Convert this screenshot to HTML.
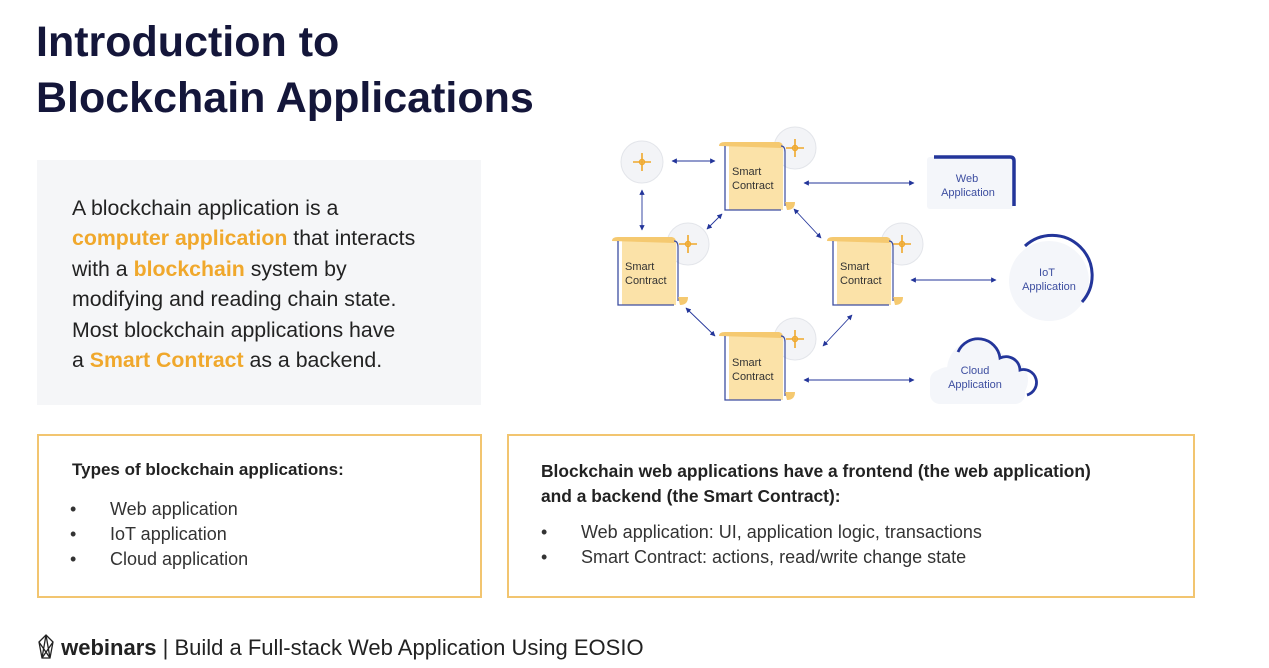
<!DOCTYPE html>
<html><head><meta charset="utf-8">
<style>
body{margin:0;width:1269px;height:668px;background:#fff;position:relative;overflow:hidden;font-family:"Liberation Sans",sans-serif;color:#1a1a2e}
.a{position:absolute}
h1{position:absolute;left:36px;top:14px;margin:0;font-size:43px;line-height:56px;font-weight:bold;color:#14163a}
.gray{left:37px;top:160px;width:444px;height:245px;background:#f5f6f8}
.intro{left:72px;top:193px;font-size:21.3px;line-height:30.4px;color:#222;white-space:nowrap}
.o{color:#f0a82c;font-weight:bold}
.box{border:2px solid #f2c570;box-sizing:border-box}
.bt{font-size:17px;font-weight:bold;color:#222;white-space:nowrap}
.li{font-size:18px;color:#333;white-space:nowrap}
</style></head><body>
<h1>Introduction to<br>Blockchain Applications</h1>
<div class="a gray"></div>
<div class="a intro">A blockchain application is a<br><span class="o">computer application</span> that interacts<br>with a <span class="o">blockchain</span> system by<br>modifying and reading chain state.<br>Most blockchain applications have<br>a <span class="o">Smart Contract</span> as a backend.</div>

<div class="a box" style="left:37px;top:434px;width:445px;height:164px"></div>
<div class="a bt" style="left:72px;top:460px">Types of blockchain applications:</div>
<div class="a li" style="left:70px;top:497px;line-height:25px">•<br>•<br>•</div>
<div class="a li" style="left:110px;top:497px;line-height:25px">Web application<br>IoT application<br>Cloud application</div>

<div class="a box" style="left:507px;top:434px;width:688px;height:164px"></div>
<div class="a bt" style="left:541px;top:459px;line-height:25px;font-size:17.4px">Blockchain web applications have a frontend (the web application)<br>and a backend (the Smart Contract):</div>
<div class="a li" style="left:541px;top:520px;line-height:25px">•<br>•</div>
<div class="a li" style="left:581px;top:520px;line-height:25px">Web application: UI, application logic, transactions<br>Smart Contract: actions, read/write change state</div>

<div class="a" style="left:37px;top:634px;font-size:22px;color:#222;white-space:nowrap">
<svg width="18" height="26" viewBox="0 0 18 26" style="vertical-align:-5px"><path d="M9 1 L16 8 L13 24 L5 24 L2 8 Z M9 1 L5 24 M9 1 L13 24 M2 8 L13 24 M16 8 L5 24" fill="none" stroke="#222" stroke-width="1.3"/></svg>
<b>webinars</b> | Build a Full-stack Web Application Using EOSIO</div>

<svg class="a" style="left:0;top:0" width="1269" height="668">
<defs>
<marker id="ar" viewBox="0 0 10 10" refX="9" refY="5" markerWidth="6" markerHeight="6" orient="auto-start-reverse"><path d="M0 0 L10 5 L0 10 Z" fill="#23359a"/></marker>
<g id="star"><path d="M0 -9 L0 9 M-9 0 L9 0" stroke="#f0a82c" stroke-width="1.6"/><circle r="2.5" fill="none" stroke="#f0a82c" stroke-width="1.4"/></g>
<g id="scroll">
<rect x="10" y="4" width="54" height="64" fill="#fbe2a8"/>
<path d="M0 4 Q0 0 6 0 L60 0 Q66 2 62 6 Z" fill="#f5c970"/>
<path d="M6 4 L6 68 L62 68" fill="none" stroke="#3d4ea0" stroke-width="1.3"/>
<path d="M62 4 Q66 4 66 10 L66 64" fill="none" stroke="#3d4ea0" stroke-width="1.2"/>
<path d="M66 60 L76 60 Q76 68 68 68 Z" fill="#f5c970"/>
</g>
</defs>
<g font-size="11" fill="#333">
<circle cx="642" cy="162" r="21" fill="#f3f4f7" stroke="#e3e5ea"/><use href="#star" x="642" y="162"/>
<circle cx="795" cy="148" r="21" fill="#f3f4f7" stroke="#e3e5ea"/><use href="#star" x="795" y="148"/>
<circle cx="688" cy="244" r="21" fill="#f3f4f7" stroke="#e3e5ea"/><use href="#star" x="688" y="244"/>
<circle cx="902" cy="244" r="21" fill="#f3f4f7" stroke="#e3e5ea"/><use href="#star" x="902" y="244"/>
<circle cx="795" cy="339" r="21" fill="#f3f4f7" stroke="#e3e5ea"/><use href="#star" x="795" y="339"/>
<use href="#scroll" x="719" y="142"/><text x="732" y="175">Smart</text><text x="732" y="189">Contract</text>
<use href="#scroll" x="612" y="237"/><text x="625" y="270">Smart</text><text x="625" y="284">Contract</text>
<use href="#scroll" x="827" y="237"/><text x="840" y="270">Smart</text><text x="840" y="284">Contract</text>
<use href="#scroll" x="719" y="332"/><text x="732" y="366">Smart</text><text x="732" y="380">Contract</text>
</g>
<g stroke="#23359a" stroke-width="0.9" marker-start="url(#ar)" marker-end="url(#ar)">
<line x1="672" y1="161" x2="715" y2="161"/>
<line x1="642" y1="190" x2="642" y2="230"/>
<line x1="804" y1="183" x2="914" y2="183"/>
<line x1="722" y1="214" x2="707" y2="229"/>
<line x1="794" y1="209" x2="821" y2="238"/>
<line x1="911" y1="280" x2="996" y2="280"/>
<line x1="686" y1="308" x2="715" y2="336"/>
<line x1="852" y1="315" x2="823" y2="346"/>
<line x1="804" y1="380" x2="914" y2="380"/>
</g>
<rect x="927" y="157" width="86" height="52" rx="3" fill="#f4f6fa"/>
<path d="M934 157 L1010 157 Q1014 157 1014 161 L1014 206" fill="none" stroke="#23359a" stroke-width="3.5"/>
<circle cx="1049" cy="281" r="40" fill="#f4f6fa"/>
<path d="M1025 246 A40 40 0 0 1 1082 302" fill="none" stroke="#23359a" stroke-width="3"/>
<g fill="#f4f6fa"><circle cx="977" cy="370" r="30"/><circle cx="1005" cy="380" r="23"/><circle cx="948" cy="385" r="18"/><rect x="930" y="370" width="95" height="34" rx="10"/></g>
<path d="M958 352 A22 22 0 0 1 1000 358 A14 14 0 0 1 1020 370 A12 12 0 0 1 1027 395" fill="none" stroke="#23359a" stroke-width="2.8"/>
<g font-size="11" fill="#3d4ea0" text-anchor="middle">
<text x="967" y="182">Web</text><text x="968" y="196">Application</text>
<text x="1047" y="276">IoT</text><text x="1049" y="290">Application</text>
<text x="975" y="374">Cloud</text><text x="975" y="388">Application</text>
</g>
</svg>
</body></html>
